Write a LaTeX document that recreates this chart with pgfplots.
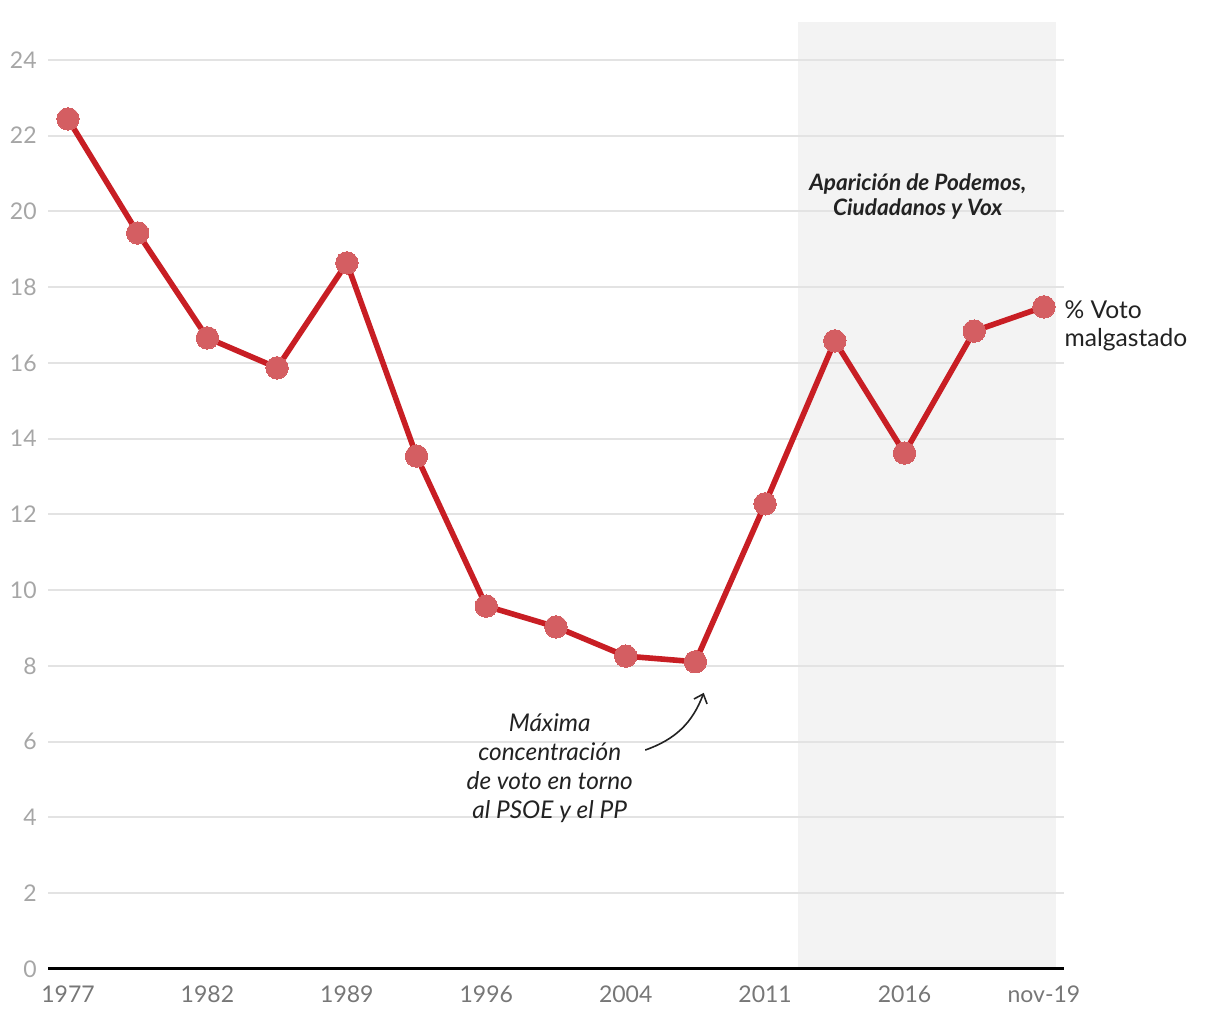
\documentclass[border=0pt]{standalone}
\usepackage{pgfplots}
\pgfplotsset{compat=1.18}
\usepackage{pgfplotstable}
\usepackage{fontspec}
\setmainfont{Lato}
\usetikzlibrary{arrows.meta}
\definecolor{linered}{HTML}{C81E24}
\definecolor{markred}{HTML}{D45E62}
\definecolor{shade}{HTML}{F3F3F3}
\definecolor{gridc}{HTML}{E3E3E3}
\definecolor{ylab}{HTML}{A6A6A6}
\definecolor{xlab}{HTML}{777777}
\definecolor{txt}{HTML}{222222}
\pgfplotstableread{
x y
0 22.44
1 19.43
2 16.66
3 15.87
4 18.64
5 13.54
6 9.58
7 9.03
8 8.26
9 8.11
10 12.28
11 16.58
12 13.62
13 16.84
14 17.48
}\datatable
\begin{document}
\begin{tikzpicture}
\begin{axis}[
  set layers,
  at={(24pt,25.5pt)}, anchor=south west,
  scale only axis, width=508pt, height=473.5pt,
  xmin=-0.287, xmax=14.288, ymin=0, ymax=25,
  clip=false,
  axis x line*=bottom, axis y line*=left,
  x axis line style={black, line width=1.5pt, -},
  y axis line style={draw=none},
  major tick length=0pt,
  ytick={0,2,...,24},
  xtick={0,2,...,14},
  xticklabels={1977,1982,1989,1996,2004,2011,2016,nov-19},
  ymajorgrids,
  grid style={gridc, line width=1pt},
  /pgf/number format/assume math mode=true,
  yticklabel style={anchor=east, inner sep=0pt, xshift=-5.5pt, text=ylab, font=\fontsize{11.5}{14}\selectfont},
  xticklabel style={anchor=north, inner sep=0pt, yshift=-8pt, text=xlab, font=\fontsize{11.5}{14}\selectfont},
]
\addplot[draw=none, fill=shade, on layer=axis background] coordinates {(10.47,25) (14.17,25)} \closedcycle;
\addplot[color=markred, only marks, mark=*, mark size=5.6pt, mark options={fill=markred, draw=markred, line width=0pt}] table {\datatable};
\addplot[linered, line width=2.8pt, mark=none] table {\datatable};
\node[font=\fontsize{12.3}{14}\selectfont, text=txt, anchor=west, align=left, inner sep=0pt] at (axis cs:14.29,16.98) {\% Voto\\malgastado};
\node[font=\itshape\fontsize{12.2}{14.5}\selectfont, text=txt, align=center, inner sep=0pt] at (axis cs:6.91,5.31) {Máxima\\concentración\\de voto en torno\\al PSOE y el PP};
\draw[-{Straight Barb[length=4pt,width=7pt]}, line width=0.8pt, txt] (axis cs:8.28,5.78) to[bend right=25] (axis cs:9.12,7.29);
\node[font=\bfseries\itshape\fontsize{11.3}{12.5}\selectfont, text=txt, align=center, inner sep=0pt] at (axis cs:12.19,20.38) {Aparición de Podemos,\\Ciudadanos y Vox};
\end{axis}
\pgfresetboundingbox
\useasboundingbox (0,0) rectangle (610pt,510pt);
\end{tikzpicture}
\end{document}
